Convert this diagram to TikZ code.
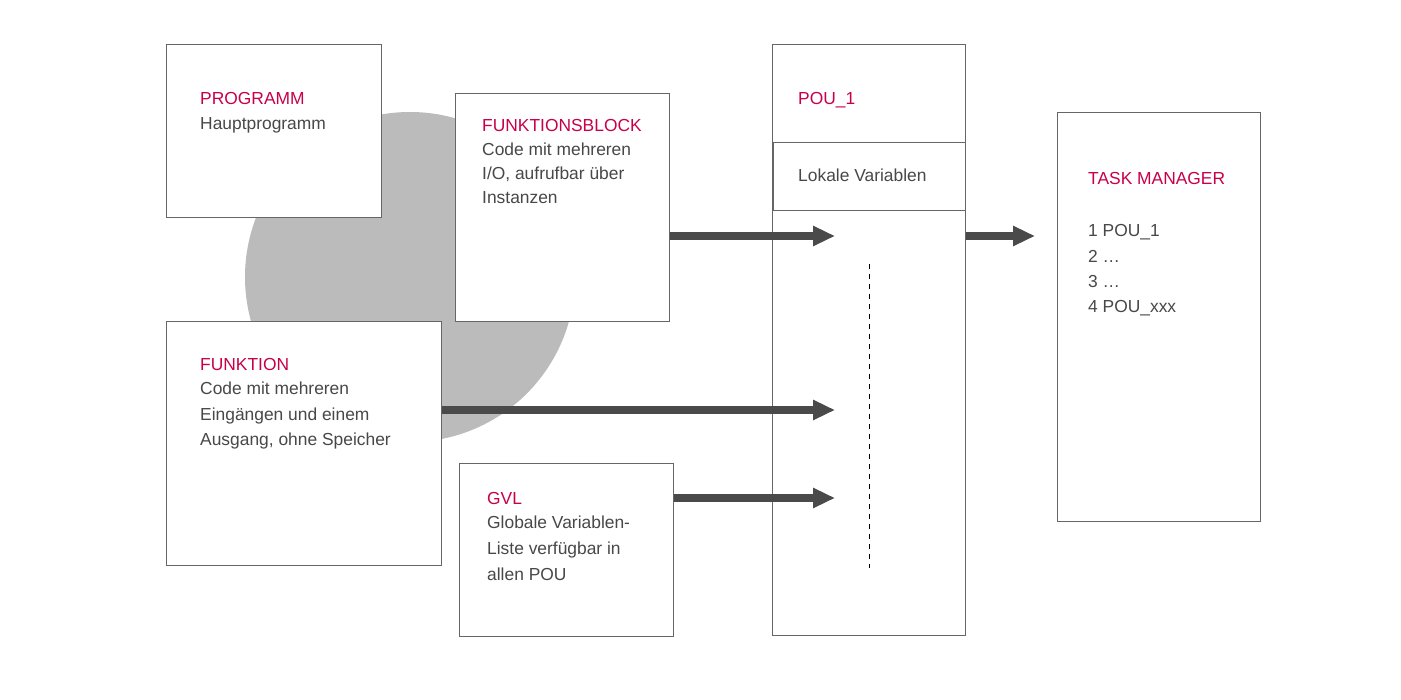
\documentclass[tikz,border=0pt]{standalone}
\usepackage{fontspec}
\setmainfont{Liberation Sans}
\usetikzlibrary{arrows.meta}
\definecolor{accent}{HTML}{C8004B}
\definecolor{txt}{HTML}{484848}
\definecolor{frame}{HTML}{666666}
\definecolor{blob}{HTML}{BABBBA}
\definecolor{arr}{HTML}{4A4A4A}
\begin{document}
\begin{tikzpicture}[x=1pt,y=-1pt,
  box/.style={draw=frame,line width=1.1pt,fill=white,inner sep=0pt,anchor=north west},
  head/.style={anchor=base west,inner sep=0pt,text=accent,font=\fontsize{17.4}{25}\selectfont},
  body/.style={anchor=base west,inner sep=0pt,text=txt,font=\fontsize{17.4}{25}\selectfont},
  flow/.style={draw=arr,line width=7.5pt,-{Triangle[length=22pt,width=19pt]}},
  guide/.style={draw=black,line width=1pt,dash pattern=on 5pt off 5pt}]
\useasboundingbox (0,0) rectangle (1401,700);
\fill[white] (0,0) rectangle (1401,700);
% grey disc
\fill[blob] (410,277) circle [radius=165pt];
% boxes
\node[box,minimum width=215pt,minimum height=173pt] (prog) at (166,44) {};
\node[box,minimum width=214pt,minimum height=228pt] (fb) at (455,93) {};
\node[box,minimum width=275pt,minimum height=244pt] (fun) at (166,321) {};
\node[box,minimum width=214pt,minimum height=173pt] (gvl) at (459,463) {};
\node[box,minimum width=193pt,minimum height=591pt] (pou) at (772,44) {};
\node[box,minimum width=192pt,minimum height=68pt] (lok) at (773,142) {};
\node[box,minimum width=203pt,minimum height=409pt] (tm) at (1057,112) {};
% texts
\node[head] (progT) at (200,105) {PROGRAMM};
\node[body] (progB) at (200,130) {Hauptprogramm};
\node[head] (fbT) at (482,132) {FUNKTIONSBLOCK};
\node[body] (fbB1) at (482,156) {Code mit mehreren};
\node[body] (fbB2) at (482,180) {I/O, aufrufbar über};
\node[body] (fbB3) at (482,204) {Instanzen};
\node[head] (funT) at (200,371) {FUNKTION};
\node[body] (funB1) at (200,395) {Code mit mehreren};
\node[body] (funB2) at (200,421) {Eingängen und einem};
\node[body] (funB3) at (200,446) {Ausgang, ohne Speicher};
\node[head] (gvlT) at (487,504) {GVL};
\node[body] (gvlB1) at (487,529) {Globale Variablen-};
\node[body] (gvlB2) at (487,554) {Liste verfügbar in};
\node[body] (gvlB3) at (487,580) {allen POU};
\node[head] (pouT) at (798,105) {POU\_1};
\node[body] (lokT) at (798,182) {Lokale Variablen};
\node[head] (tmT) at (1088,185) {TASK MANAGER};
\node[body] (tm1) at (1088,237) {1 POU\_1};
\node[body] (tm2) at (1088,263) {2 …};
\node[body] (tm3) at (1088,288) {3 …};
\node[body] (tm4) at (1088,313) {4 POU\_xxx};
% dashed guide
\coordinate (g1) at (869,264);
\coordinate (g2) at (869,568);
\draw[guide] (g1) -- (g2);
% arrows
\coordinate (e1) at (835,236);
\coordinate (e2) at (835,410);
\coordinate (e3) at (835,498);
\coordinate (e4) at (1035,236);
\draw[flow] (fb.east |- e1) -- (e1);
\draw[flow] (fun.east |- e2) -- (e2);
\draw[flow] (gvl.east |- e3) -- (e3);
\draw[flow] (pou.east |- e4) -- (e4);
\end{tikzpicture}
\end{document}
